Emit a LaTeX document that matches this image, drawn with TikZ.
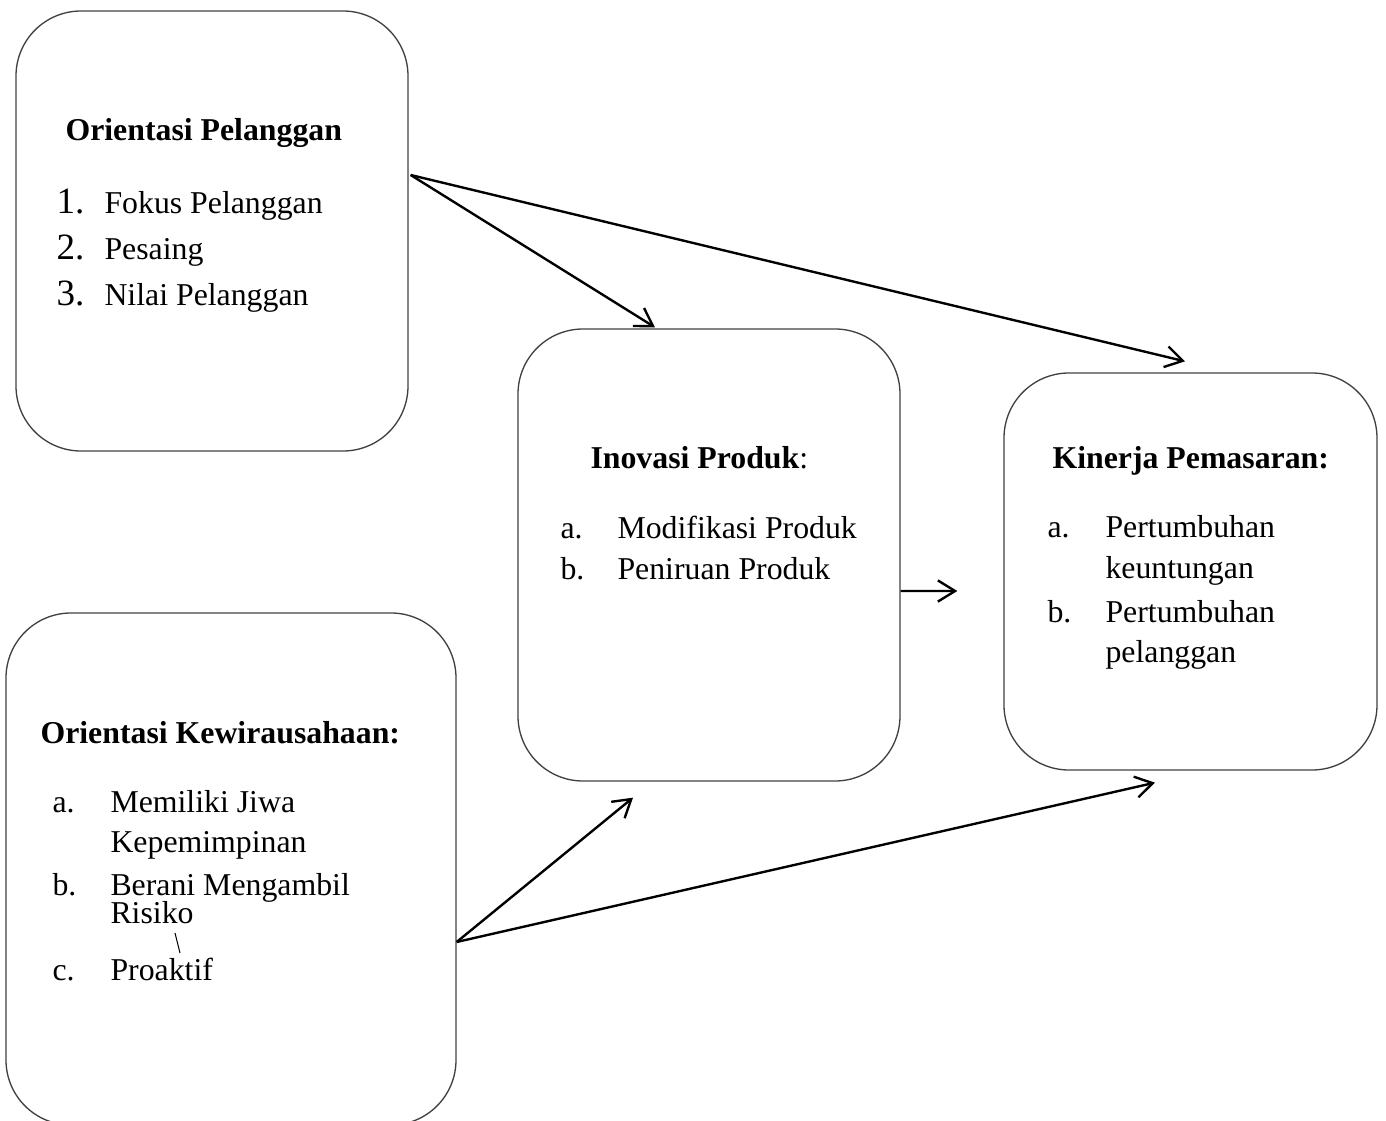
\documentclass[tikz,border=0pt]{standalone}
\usepackage{fontspec}
\setmainfont{Liberation Serif}
\usetikzlibrary{arrows.meta,calc}
\def\px{0.3774pt}
\begin{document}
\begin{tikzpicture}[x=\px,y=-\px]
        \tikzstyle{box} = [rectangle, rounded corners=65*\px, draw=black!75, line width=.5pt, inner sep=0pt]
        \tikzstyle{txt} = [anchor=base west, inner sep=0pt, text=black, font=\fontsize{12}{14}\selectfont]
        \tikzstyle{head} = [txt, font=\fontsize{12}{14}\selectfont\bfseries]
        \tikzstyle{num} = [txt, font=\fontsize{14}{16}\selectfont]
        \tikzstyle{line} = [-{Straight Barb[length=6.5pt,width=8pt]}, draw=black, line width=.9pt]
        \path[use as bounding box] (0,0) rectangle (1386,1121);
        \clip (0,0) rectangle (1386,1121);
        % boxes
        \node[box, minimum width=392*\px, minimum height=440*\px] (op) at (212,231) {};
        \node[box, minimum width=382*\px, minimum height=452*\px] (ip) at (709,555) {};
        \node[box, minimum width=373*\px, minimum height=397*\px] (kp) at (1190.5,571.5) {};
        \node[box, minimum width=450*\px, minimum height=512*\px] (ok) at (231,869) {};
        % Orientasi Pelanggan
        \node[head] (op-title) at (65,140) {Orientasi Pelanggan};
        \node[num] (op-n1) at (56,213) {1.};
        \node[txt] (op-i1) at (104,213) {Fokus Pelanggan};
        \node[num] (op-n2) at (56,259) {2.};
        \node[txt] (op-i2) at (104,259) {Pesaing};
        \node[num] (op-n3) at (56,305) {3.};
        \node[txt] (op-i3) at (104,305) {Nilai Pelanggan};
        % Inovasi Produk
        \node[txt] (ip-title) at (590,468) {\textbf{Inovasi Produk}:};
        \node[txt] (ip-na) at (560,538) {a.};
        \node[txt] (ip-ia) at (617,538) {Modifikasi Produk};
        \node[txt] (ip-nb) at (560,579) {b.};
        \node[txt] (ip-ib) at (617,579) {Peniruan Produk};
        % Kinerja Pemasaran
        \node[head] (kp-title) at (1052,468) {Kinerja Pemasaran:};
        \node[txt] (kp-na) at (1047,537) {a.};
        \node[txt] (kp-ia) at (1105,537) {Pertumbuhan};
        \node[txt] (kp-ia2) at (1105,578) {keuntungan};
        \node[txt] (kp-nb) at (1047,622) {b.};
        \node[txt] (kp-ib) at (1105,622) {Pertumbuhan};
        \node[txt] (kp-ib2) at (1105,662) {pelanggan};
        % Orientasi Kewirausahaan
        \node[head] (ok-title) at (40,743) {Orientasi Kewirausahaan:};
        \node[txt] (ok-na) at (52,812) {a.};
        \node[txt] (ok-ia) at (110,812) {Memiliki Jiwa};
        \node[txt] (ok-ia2) at (110,852) {Kepemimpinan};
        \node[txt] (ok-nb) at (52,895) {b.};
        \node[txt] (ok-ib) at (110,895) {Berani Mengambil};
        \node[txt] (ok-ib2) at (110,923) {Risiko};
        \draw[line width=.4pt] (175,933) -- (180,953);
        \node[txt] (ok-nc) at (52,980) {c.};
        \node[txt] (ok-ic) at (110,980) {Proaktif};
        % arrows
        \draw[line] ($(op.east)+(2,-56)$) to ($(ip.north)+(-54,-1)$);
        \draw[line] ($(op.east)+(2,-56)$) to ($(kp.north)+(-5.5,-11)$);
        \draw[line] ($(ip.east)+(0,36)$) to ($(kp.west)+(-46,19.5)$);
        \draw[line] ($(ok.east)+(0,73)$) to ($(ip.south)+(-76,16)$);
        \draw[line] ($(ok.east)+(0,73)$) to ($(kp.south)+(-35.5,12)$);
    \end{tikzpicture}
\end{document}
